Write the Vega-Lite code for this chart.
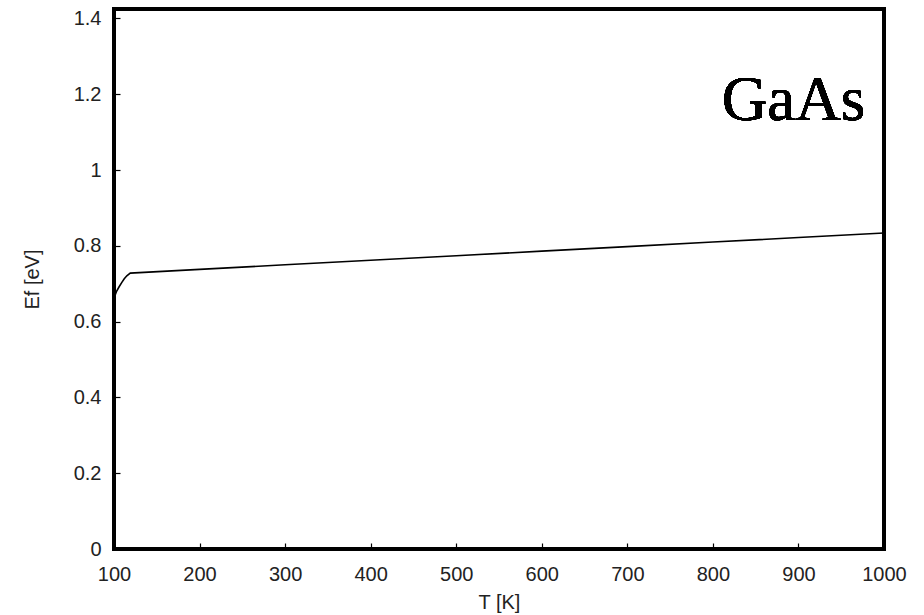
{
  "$schema": "https://vega.github.io/schema/vega-lite/v6.json",
  "width": 770,
  "height": 540,
  "autosize": {"type": "none"},
  "padding": {"left": 114, "top": 9, "right": 40, "bottom": 66},
  "background": "white",
  "config": {
    "view": {"stroke": "black", "strokeWidth": 4},
    "axis": {
      "domain": false,
      "grid": false,
      "tickColor": "black",
      "tickSize": -6,
      "tickWidth": 1.2,
      "labelFont": "Liberation Sans",
      "labelFontSize": 20,
      "labelColor": "#222",
      "labelFlush": false,
      "labelOverlap": false,
      "titleFont": "Liberation Sans",
      "titleFontSize": 20,
      "titleFontWeight": "normal",
      "titleColor": "#222"
    }
  },
  "data": {
    "values": [
      {"T": 100, "Ef": 0.662},
      {"T": 103, "Ef": 0.68},
      {"T": 106, "Ef": 0.692},
      {"T": 109, "Ef": 0.703},
      {"T": 112, "Ef": 0.713},
      {"T": 115, "Ef": 0.721},
      {"T": 119, "Ef": 0.728},
      {"T": 200, "Ef": 0.738},
      {"T": 300, "Ef": 0.750},
      {"T": 400, "Ef": 0.762},
      {"T": 500, "Ef": 0.774},
      {"T": 600, "Ef": 0.786},
      {"T": 700, "Ef": 0.798},
      {"T": 800, "Ef": 0.810},
      {"T": 900, "Ef": 0.822},
      {"T": 1000, "Ef": 0.834}
    ]
  },
  "layer": [
    {
      "mark": {"type": "line", "color": "black", "strokeWidth": 1.6, "clip": true},
      "encoding": {
        "x": {
          "field": "T", "type": "quantitative",
          "scale": {"domain": [100, 1000], "nice": false, "zero": false},
          "axis": {"title": "T [K]", "format": "d", "values": [100, 200, 300, 400, 500, 600, 700, 800, 900, 1000], "labelPadding": 21, "titleBaseline": "middle", "titleY": 53}
        },
        "y": {
          "field": "Ef", "type": "quantitative",
          "scale": {"domain": [0, 1.425], "nice": false},
          "axis": {"title": "Ef [eV]", "format": "~g", "values": [0, 0.2, 0.4, 0.6, 0.8, 1, 1.2, 1.4], "labelPadding": 19, "titleBaseline": "middle", "titleX": -82}
        }
      }
    },
    {
      "mark": {"type": "text", "text": "GaAs", "font": "Liberation Serif", "fontSize": 63, "align": "right", "baseline": "alphabetic", "color": "black"},
      "encoding": {
        "x": {"datum": 978, "type": "quantitative"},
        "y": {"datum": 1.131, "type": "quantitative"}
      }
    }
  ]
}
